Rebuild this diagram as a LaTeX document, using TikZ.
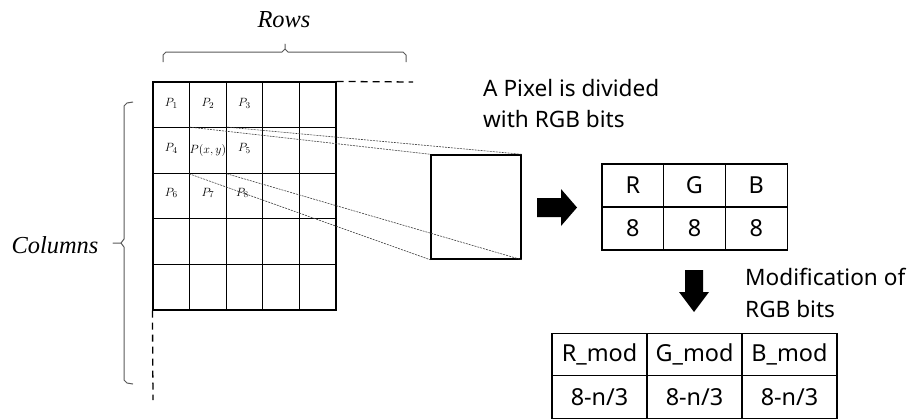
\documentclass[tikz,border=0pt]{standalone}
\usepackage{fontspec}
\newfontfamily\nsans{Noto Sans}
\newfontfamily\lserif{Liberation Serif}
\begin{document}
\begin{tikzpicture}[x=1bp,y=-1bp,
  gridcell/.style={draw=black,line width=1.1bp,minimum width=36.6bp,minimum height=45.6bp,inner sep=0pt},
  plabel/.style={inner sep=0pt,font=\fontsize{12.5}{14}\selectfont},
  tabcell/.style={draw=black,line width=1.1bp,inner sep=0pt,font=\nsans\fontsize{23.5}{26}\selectfont},
  rgbcell/.style={tabcell,minimum width=61.7bp,minimum height=43bp},
  modcell/.style={tabcell,minimum width=95bp,minimum height=42.5bp},
  label/.style={font=\nsans\fontsize{22.7}{31.5}\selectfont,align=left,inner sep=0pt},
  axislabel/.style={font=\lserif\fontsize{24.5}{28}\selectfont\itshape,inner sep=0pt},
  bracket/.style={draw=black!65,line width=1bp,line join=round},
  zoomline/.style={draw=black!75,line width=0.6bp,dash pattern=on 2bp off 1bp},
  extline/.style={draw=black,line width=1.3bp,dash pattern=on 7bp off 5bp},
  blockarrow/.style={fill=black,draw=none}
]
\useasboundingbox (0,0) rectangle (909,419);

% grid of pixels
\foreach \r in {1,...,5}{
  \foreach \c in {1,...,5}{
    \node[gridcell] (c-\r-\c) at ({153+36.6*(\c-0.5)},{82+45.6*(\r-0.5)}) {};
  }
}
\node[plabel] (p1) at ([yshift=1bp]c-1-1) {$P_1$};
\node[plabel] (p2) at ([yshift=1bp]c-1-2) {$P_2$};
\node[plabel] (p3) at ([yshift=1bp]c-1-3) {$P_3$};
\node[plabel] (p4) at ([yshift=2bp]c-2-1) {$P_4$};
\node[plabel] (pxy) at (c-2-2) {$P(x,y)$};
\node[plabel] (p5) at ([yshift=2bp]c-2-3) {$P_5$};
\node[plabel] (p6) at ([yshift=3bp]c-3-1) {$P_6$};
\node[plabel] (p7) at ([yshift=3bp]c-3-2) {$P_7$};
\node[plabel] (p8) at ([yshift=3bp,xshift=-2bp]c-3-3) {$P_8$};

% continuation dashes
\coordinate (topend) at (413,82);
\coordinate (botend) at (153,400);
\draw[extline] (c-1-5.north east) -- (topend);
\draw[extline] (c-5-1.south west) -- (botend);

% braces
\draw[bracket] (163,62) -- (163,55) -- (166,52) -- (282,52) -- (285,49) -- (285,44) -- (285,49) -- (288,52) -- (403,52) -- (406,55) -- (406,62);
\node[axislabel] (rows) at (284,20) {Rows};
\draw[bracket] (133,102) -- (127,103) -- (124,106) -- (124,239) -- (121,243) -- (113,243) -- (121,243) -- (124,247) -- (124,380) -- (127,383) -- (133,384);
\node[axislabel] (cols) at (55,245) {Columns};

% magnified pixel
\node[draw=black,line width=1.5bp,minimum width=90bp,minimum height=104bp,inner sep=0pt] (sq) at (476,207) {};
\draw[zoomline] (c-2-2.north west) -- (sq.north west);
\draw[zoomline] (c-2-2.north east) -- (sq.north east);
\draw[zoomline] (c-2-2.south west) -- (sq.south west);
\draw[zoomline] (c-2-2.south east) -- (sq.south east);

\node[label,anchor=base west] (pixtext) at (483,127.5) {A Pixel is divided\\with RGB bits};

% right block arrow
\fill[blockarrow] (537,198) -- (561,198) -- (561,189) -- (577,207.5) -- (561,226) -- (561,217) -- (537,217) -- cycle;

% RGB table
\node[rgbcell] (r1) at (632.8,185.5) {R};
\node[rgbcell] (g1) at (694.5,185.5) {G};
\node[rgbcell] (b1) at (756.2,185.5) {B};
\node[rgbcell] (r2) at (632.8,228.5) {8};
\node[rgbcell] (g2) at (694.5,228.5) {8};
\node[rgbcell] (b2) at (756.2,228.5) {8};

% down block arrow
\fill[blockarrow] (685,270) -- (703,270) -- (703,292) -- (709,292) -- (694,312) -- (679,292) -- (685,292) -- cycle;

\node[label,anchor=base west] (modtext) at (745,317) {Modification of\\RGB bits};

% modified table
\node[modcell] (rm) at (599.5,354.5) {R\_mod};
\node[modcell] (gm) at (694.5,354.5) {G\_mod};
\node[modcell] (bm) at (789.5,354.5) {B\_mod};
\node[modcell] (rn) at (599.5,397) {8-n/3};
\node[modcell] (gn) at (694.5,397) {8-n/3};
\node[modcell] (bn) at (789.5,397) {8-n/3};
\end{tikzpicture}
\end{document}
